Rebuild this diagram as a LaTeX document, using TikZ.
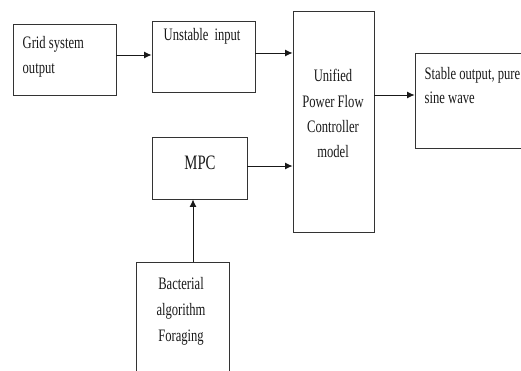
\documentclass[tikz,border=0pt]{standalone}
\usepackage{fontspec}
\setmainfont{Liberation Serif}[FakeStretch=0.72]
\usetikzlibrary{arrows.meta}
\begin{document}
\begin{tikzpicture}[x=1pt,y=1pt,
  box/.style={draw=black!80, line width=0.9pt, rectangle, inner sep=0pt},
  arr/.style={draw=black!90, line width=0.9pt, -{Latex[length=7.5pt,width=7pt]}},
  txt/.style={inner sep=0pt, font=\fontsize{17.5}{25}\selectfont, text=black!90}]
\useasboundingbox (0,0) rectangle (521,370);
% boxes (image y -> 370 - y)
\node[box, minimum width=103pt, minimum height=71pt] (grid) at (64.5,310.5) {};
\node[box, minimum width=103pt, minimum height=71pt] (unst) at (203.5,313.5) {};
\node[box, minimum width=95pt, minimum height=62pt] (mpc) at (199.5,202) {};
\node[box, minimum width=81pt, minimum height=221pt] (upfc) at (333.5,248.5) {};
\node[box, minimum width=112pt, minimum height=95pt] (stab) at (471,269.5) {};
\node[box, minimum width=93pt, minimum height=114pt] (bact) at (182.5,51) {};
% texts (anchor base = baseline of last line)
\node[txt, anchor=base west, align=left] (tgrid) at (22.5,296) {Grid system\\output};
\node[txt, anchor=base west] (tunst) at (163.5,329) {Unstable\, input};
\node[txt, anchor=base, font=\fontsize{20.5}{25}\selectfont] (tmpc) at (200,201) {MPC};
\node[txt, anchor=base, align=center] (tupfc) at (333,213) {Unified\\Power Flow\\Controller\\model};
\node[txt, anchor=base west, align=left, font=\fontsize{17.5}{24}\selectfont] (tstab) at (424.5,266) {Stable output, pure\\sine wave};
\node[txt, anchor=base, align=center, font=\fontsize{17.5}{26}\selectfont] (tbact) at (181,29) {Bacterial\\algorithm\\Foraging};
% connectors
\draw[arr] ([yshift=4.5pt]grid.east) -- ([yshift=4.5pt]grid.east -| unst.west);
\draw[arr] ([yshift=3.5pt]unst.east) -- ([yshift=3.5pt]unst.east -| upfc.west);
\draw[arr] ([yshift=2pt]mpc.east) -- ([yshift=2pt]mpc.east -| upfc.west);
\draw[arr] ([yshift=26.5pt]upfc.east) -- ([yshift=26.5pt]upfc.east -| stab.west);
\draw[arr] ([xshift=10.5pt]bact.north) -- ([xshift=10.5pt]bact.north |- mpc.south);
\end{tikzpicture}
\end{document}
